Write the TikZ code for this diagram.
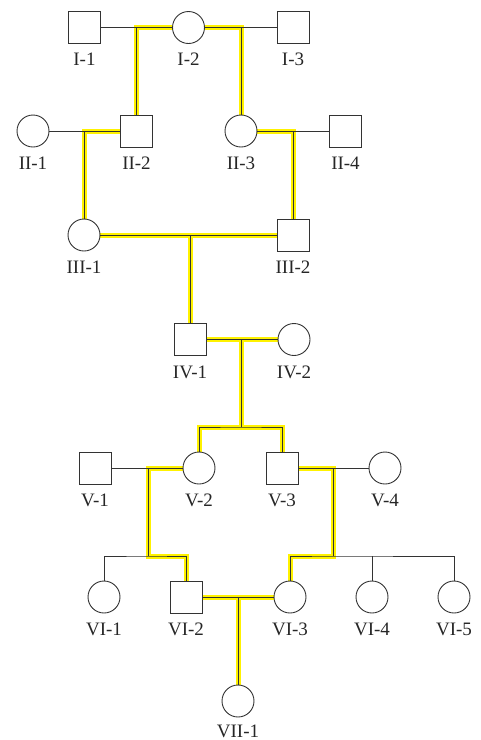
\documentclass[tikz,border=0pt]{standalone}
\usepackage{fontspec}
\setmainfont{Liberation Serif}
\pgfdeclarelayer{bg}
\pgfsetlayers{bg,main}
\begin{document}
\begin{tikzpicture}[x=1pt,y=-1pt,
 sq/.style={draw=black!80, line width=0.9pt, minimum size=32pt, inner sep=0pt, rectangle},
 ci/.style={draw=black!80, line width=0.9pt, minimum size=32pt, inner sep=0pt, circle},
 lab/.style={font=\fontsize{19}{19}\selectfont, text=black!85, inner sep=0pt},
 ln/.style={draw=black!80, line width=0.9pt},
 hl/.style={draw=yellow, line width=5pt}]
\useasboundingbox (0,0) rectangle (480,740);
% generation I
\node[sq] (I1) at (84.5,27.5) {};
\node[ci] (I2) at (188.5,27.5) {};
\node[sq] (I3) at (293,27.5) {};
% generation II
\node[ci] (II1) at (33,131) {};
\node[sq] (II2) at (136.5,131) {};
\node[ci] (II3) at (241,131) {};
\node[sq] (II4) at (345.5,131) {};
% generation III
\node[ci] (III1) at (84,235) {};
\node[sq] (III2) at (293,235) {};
% generation IV
\node[sq] (IV1) at (190,339.5) {};
\node[ci] (IV2) at (294,339.5) {};
% generation V
\node[sq] (V1) at (95,468) {};
\node[ci] (V2) at (199,468) {};
\node[sq] (V3) at (282,468) {};
\node[ci] (V4) at (385,468) {};
% generation VI
\node[ci] (VI1) at (104,597) {};
\node[sq] (VI2) at (186,597) {};
\node[ci] (VI3) at (290,597) {};
\node[ci] (VI4) at (372,597) {};
\node[ci] (VI5) at (454,597) {};
% generation VII
\node[ci] (VII1) at (238,701) {};
% labels
\node[lab] (tI1) at (84.5,59.5) {I-1};
\node[lab] (tI2) at (188.5,59.5) {I-2};
\node[lab] (tI3) at (293,59.5) {I-3};
\node[lab] (tII1) at (33,163) {II-1};
\node[lab] (tII2) at (136.5,163) {II-2};
\node[lab] (tII3) at (241,163) {II-3};
\node[lab] (tII4) at (345.5,163) {II-4};
\node[lab] (tIII1) at (84,267.5) {III-1};
\node[lab] (tIII2) at (293,267.5) {III-2};
\node[lab] (tIV1) at (190,372) {IV-1};
\node[lab] (tIV2) at (294,372) {IV-2};
\node[lab] (tV1) at (95,500) {V-1};
\node[lab] (tV2) at (199,500) {V-2};
\node[lab] (tV3) at (282,500) {V-3};
\node[lab] (tV4) at (385,500) {V-4};
\node[lab] (tVI1) at (104,629.5) {VI-1};
\node[lab] (tVI2) at (186,629.5) {VI-2};
\node[lab] (tVI3) at (290,629.5) {VI-3};
\node[lab] (tVI4) at (372,629.5) {VI-4};
\node[lab] (tVI5) at (454,629.5) {VI-5};
\node[lab] (tVII1) at (238,731) {VII-1};
% junction coordinates
\coordinate (s4) at (241,427);
\coordinate (m5l) at (148,468);
\coordinate (s5l) at (148,556);
\coordinate (m5r) at (333,468);
\coordinate (s5r) at (333,556);
% highlighted path (yellow, underneath)
\begin{pgfonlayer}{bg}
\draw[hl] (I2.west) -| (II2.north);
\draw[hl] (I2.east) -| (II3.north);
\draw[hl] (II2.west) -| (III1.north);
\draw[hl] (II3.east) -| (III2.north);
\draw[hl] (III1.east) -- (III2.west);
\draw[hl] (IV1 |- III1) -- (IV1.north);
\draw[hl] (IV1.east) -- (IV2.west);
\draw[hl] (s4 |- IV1) -- (s4);
\draw[hl] (V2.north) |- (s4) -| (V3.north);
\draw[hl] (V2.west) -- (m5l) -- (s5l) -| (VI2.north);
\draw[hl] (V3.east) -- (m5r) -- (s5r) -| (VI3.north);
\draw[hl] (VI2.east) -- (VI3.west);
\draw[hl] (VII1 |- VI2) -- (VII1.north);
\end{pgfonlayer}
% black connectors
\draw[ln] (I1.east) -- (I2.west);
\draw[ln] (I2.east) -- (I3.west);
\draw[ln] (II2 |- I2) -- (II2.north);
\draw[ln] (II3 |- I2) -- (II3.north);
\draw[ln] (II1.east) -- (II2.west);
\draw[ln] (II3.east) -- (II4.west);
\draw[ln] (III1 |- II1) -- (III1.north);
\draw[ln] (III2 |- II3) -- (III2.north);
\draw[ln] (III1.east) -- (III2.west);
\draw[ln] (IV1 |- III1) -- (IV1.north);
\draw[ln] (IV1.east) -- (IV2.west);
\draw[ln] (s4 |- IV1) -- (s4);
\draw[ln] (V2.north) |- (s4) -| (V3.north);
\draw[ln] (V1.east) -- (V2.west);
\draw[ln] (V3.east) -- (V4.west);
\draw[ln] (m5l) -- (s5l);
\draw[ln] (VI1.north) |- (s5l) -| (VI2.north);
\draw[ln] (m5r) -- (s5r);
\draw[ln] (VI3.north) |- (s5r) -| (VI5.north);
\draw[ln] (VI4 |- s5r) -- (VI4.north);
\draw[ln] (VI2.east) -- (VI3.west);
\draw[ln] (VII1 |- VI2) -- (VII1.north);
\end{tikzpicture}
\end{document}
